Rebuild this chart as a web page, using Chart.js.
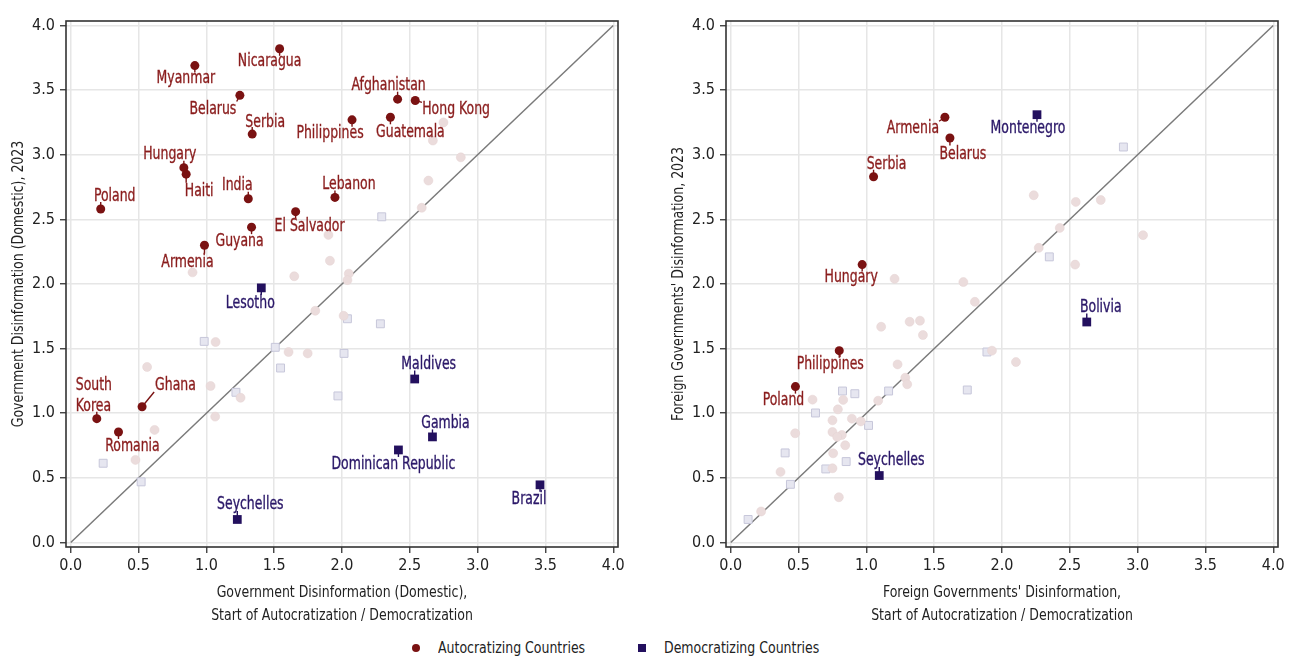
<!DOCTYPE html>
<html>
<head>
<meta charset="utf-8">
<script src="https://cdn.jsdelivr.net/npm/chart.js@4.4.1/dist/chart.umd.min.js"></script>
<style>
  html, body { margin:0; padding:0; background:#fff; }
  body { width:1289px; height:657px; overflow:hidden; position:relative;
         font-family:'Liberation Sans Narrow','DejaVu Sans Condensed','Arial Narrow',sans-serif; }
  #c1 { position:absolute; left:0; top:0; }
  #c2 { position:absolute; left:660px; top:0; }
  .lg { position:absolute; font-size:16px; color:#222; line-height:20px; top:638px; white-space:nowrap;
        transform:scaleX(0.87); transform-origin:0 50%; }
  .dot { position:absolute; top:644px; left:412px; width:8px; height:8px; border-radius:50%; background:#7a1212; }
  .sq { position:absolute; top:644px; left:638px; width:8px; height:8px; background:#23105e; }
</style>
</head>
<body>
<canvas id="c1" width="640" height="632"></canvas>
<canvas id="c2" width="629" height="632"></canvas>
<div class="dot"></div><div class="lg" style="left:438px">Autocratizing Countries</div>
<div class="sq"></div><div class="lg" style="left:664px">Democratizing Countries</div>
<script>
// ---------------- DATA: left panel (Domestic) ----------------
const autoNamesL = ['Nicaragua','Myanmar','Belarus','Afghanistan','Hong Kong','Serbia','Philippines','Guatemala','Hungary','Haiti','India','Lebanon','Poland','El Salvador','Guyana','Armenia','Ghana','South Korea','Romania'];
const autoXL = [1.54,0.915,1.247,2.41,2.54,1.338,2.074,2.357,0.834,0.851,1.309,1.948,0.221,1.658,1.333,0.986,0.526,0.192,0.352];
const autoYL = [3.82,3.69,3.46,3.43,3.42,3.16,3.27,3.29,2.90,2.85,2.66,2.67,2.58,2.56,2.44,2.30,1.05,0.958,0.855];

const demoNamesL = ['Lesotho','Maldives','Gambia','Dominican Republic','Brazil','Seychelles'];
const demoXL = [1.405,2.536,2.667,2.416,3.46,1.228];
const demoYL = [1.97,1.265,0.817,0.716,0.446,0.178];

const otherAutoXL = [0.898,1.90,1.911,1.648,2.05,2.04,2.748,2.67,2.876,2.637,2.588,0.563,1.068,1.803,2.012,1.606,1.747,1.031,1.252,1.065,0.618,0.477];
const otherAutoYL = [2.09,2.38,2.18,2.06,2.08,2.03,3.25,3.11,2.98,2.80,2.59,1.358,1.551,1.793,1.754,1.474,1.463,1.211,1.12,0.974,0.871,0.639];

const otherDemoXL = [2.293,0.984,2.04,1.508,2.015,1.547,1.218,1.97,0.239,0.519,2.283];
const otherDemoYL = [2.52,1.556,1.731,1.51,1.463,1.35,1.162,1.134,0.613,0.469,1.692];

// ---------------- DATA: right panel (Foreign) ----------------
const autoNamesR = ['Armenia','Belarus','Serbia','Hungary','Philippines','Poland'];
const autoXR = [1.579,1.616,1.053,0.969,0.80,0.477];
const autoYR = [3.29,3.13,2.83,2.15,1.484,1.206];

const demoNamesR = ['Montenegro','Bolivia','Seychelles'];
const demoXR = [2.258,2.625,1.095];
const demoYR = [3.31,1.706,0.518];

const otherAutoXR = [1.208,1.715,2.234,2.544,2.728,2.426,2.271,2.539,3.04,1.80,1.109,1.319,1.395,1.417,1.926,1.23,1.287,1.301,1.087,0.829,0.603,0.79,0.75,0.893,0.959,0.75,0.819,0.785,0.475,0.844,0.755,0.75,0.367,0.797,0.224,2.103];
const otherAutoYR = [2.04,2.015,2.687,2.635,2.65,2.434,2.28,2.15,2.378,1.862,1.669,1.708,1.716,1.605,1.484,1.378,1.275,1.224,1.097,1.103,1.105,1.03,0.945,0.958,0.937,0.855,0.832,0.817,0.845,0.752,0.69,0.574,0.546,0.35,0.24,1.396];

const otherDemoXR = [2.895,2.349,1.889,1.744,1.164,0.824,0.915,0.625,1.016,0.401,0.851,0.701,0.44,0.128];
const otherDemoYR = [3.06,2.21,1.474,1.18,1.172,1.172,1.151,1.002,0.906,0.693,0.626,0.569,0.45,0.178];

// axis tick values and titles
const tickValues = [0,0.5,1,1.5,2,2.5,3,3.5,4];
const diagonal = [0,4];
const titlesL = { y:'Government Disinformation (Domestic), 2023',
                  x:['Government Disinformation (Domestic),','Start of Autocratization / Democratization'] };
const titlesR = { y:"Foreign Governments' Disinformation, 2023",
                  x:["Foreign Governments' Disinformation,",'Start of Autocratization / Democratization'] };

// ---------------- label placement (px offsets from the point) ----------------
const placeL = {
  'Nicaragua':[-10,12], 'Myanmar':[-9,12], 'Belarus':[-27,13], 'Afghanistan':[-9,-15],
  'Hong Kong':[7,8,'left'], 'Serbia':[13,-13], 'Philippines':[-22,12], 'Guatemala':[20,14],
  'Hungary':[-14,-14], 'Haiti':[13,16], 'India':[-11,-14], 'Lebanon':[14,-14], 'Poland':[14,-14],
  'El Salvador':[14,14], 'Guyana':[-12,13], 'Armenia':[-17,16], 'Ghana':[13,-22,'left'],
  'South Korea':[-21,-24,'left',true], 'Romania':[14,13],
  'Lesotho':[-11,14], 'Maldives':[14,-16], 'Gambia':[13,-15], 'Dominican Republic':[-5,13],
  'Brazil':[-11,13], 'Seychelles':[13,-16]
};
const placeR = {
  'Armenia':[-32,10], 'Belarus':[13,15], 'Serbia':[13,-13], 'Hungary':[-11,12],
  'Philippines':[-9,13], 'Poland':[-12,13], 'Montenegro':[-9,13], 'Bolivia':[14,-16], 'Seychelles':[12,-16]
};

// ---------------- styling ----------------
const FONT = "'Liberation Sans Narrow','DejaVu Sans Condensed','Arial Narrow',sans-serif";
const AUTO = '#7a1212', AUTO_TXT = '#8a1c1c';
const DEMO = '#23105e', DEMO_TXT = '#2a1768';
const LABEL_SX = 0.77, TITLE_SX = 0.87;
Chart.defaults.font.family = FONT;
Chart.defaults.color = '#222';

const zip = (xs, ys) => xs.map((x,i) => ({x, y: ys[i]}));

function narrowText(ctx, text, x, y, sx, align, rot, strokeW){
  ctx.save();
  ctx.translate(x, y);
  if (rot) ctx.rotate(rot);
  ctx.scale(sx, 1);
  ctx.textAlign = align;
  if (strokeW) { ctx.lineWidth = strokeW; ctx.strokeStyle = ctx.fillStyle; ctx.strokeText(text, 0, 0); }
  ctx.fillText(text, 0, 0);
  ctx.restore();
}

const framePlugin = {
  id:'frame',
  afterDraw(chart, args, opts){
    const {ctx, chartArea:a} = chart;
    ctx.save();
    ctx.strokeStyle = '#333'; ctx.lineWidth = 1.6;
    ctx.strokeRect(a.left, a.top, a.right - a.left, a.bottom - a.top);
    // axis titles
    ctx.fillStyle = '#222';
    ctx.font = '16px ' + FONT;
    ctx.textBaseline = 'middle';
    const cx = (a.left + a.right) / 2, cy = (a.top + a.bottom) / 2;
    opts.titles.x.forEach((t, k) => narrowText(ctx, t, cx, 593 + k*23, TITLE_SX, 'center'));
    narrowText(ctx, opts.titles.y, 19, cy, TITLE_SX, 'center', -Math.PI/2);
    ctx.restore();
  }
};

const labelPlugin = {
  id:'pointLabels',
  afterDatasetsDraw(chart, args, opts){
    const xs = chart.scales.x, ys = chart.scales.y, ctx = chart.ctx;
    ctx.save();
    ctx.font = '18px ' + FONT;
    ctx.textBaseline = 'middle';
    opts.items.forEach(it => {
      const px = xs.getPixelForValue(it.x), py = ys.getPixelForValue(it.y);
      const p = opts.place[it.name] || [10,-12];
      const align = p[2] || 'center';
      const lines = p[3] ? it.name.split(' ') : [it.name];
      const lh = 21;
      const w = Math.max(...lines.map(l => ctx.measureText(l).width)) * LABEL_SX;
      const h = lh * (lines.length - 1) + 12;
      const cy = py + p[1];
      const bx0 = align === 'left' ? px + p[0] : px + p[0] - w/2;
      const bx1 = bx0 + w;
      const by0 = cy - h/2, by1 = by0 + h;
      // leader line
      const nx = Math.min(Math.max(px, bx0), bx1), ny = Math.min(Math.max(py, by0), by1);
      const dx = nx - px, dy = ny - py, d = Math.hypot(dx, dy);
      if (d > 0.1) {
        const ux = dx/d, uy = dy/d, r = 3.5;
        const end = Math.max(d - 1.5, r + 3.5);
        ctx.beginPath();
        ctx.strokeStyle = it.color; ctx.lineWidth = 1.4;
        ctx.moveTo(px + ux*r, py + uy*r);
        ctx.lineTo(px + ux*end, py + uy*end);
        ctx.stroke();
      }
      ctx.fillStyle = it.textColor;
      const tx = align === 'left' ? bx0 : px + p[0];
      lines.forEach((l, k) => {
        narrowText(ctx, l, tx, cy + 1 - lh*(lines.length-1)/2 + k*lh, LABEL_SX, align, 0, 0.35);
      });
    });
    ctx.restore();
  }
};

function makeChart(id, d){
  const items = d.autoNames.map((n,i) => ({name:n, x:d.autoX[i], y:d.autoY[i], color:AUTO, textColor:AUTO_TXT}))
    .concat(d.demoNames.map((n,i) => ({name:n, x:d.demoX[i], y:d.demoY[i], color:DEMO, textColor:DEMO_TXT})));
  const axisCommon = (isX) => ({
    type:'linear', min:-0.035, max:4.035,
    afterFit(scale){ if (isX) scale.height = 85; else scale.width = 66; },
    afterBuildTicks(scale){ scale.ticks = tickValues.map(v => ({value:v})); },
    ticks:{ autoSkip:false, maxRotation:0,
            font:{size:16}, color:'#222', padding: isX ? 3 : 5,
            callback:v => Number(v).toFixed(1) },
    grid:{ color:'#e6e6e6', lineWidth:1.5, tickColor:'#333', tickLength:6, tickWidth:1.3 },
    border:{ display:false },
    title:{ display:false }
  });
  return new Chart(document.getElementById(id), {
    type:'scatter',
    data:{ datasets:[
      { data: zip(d.otherAutoX, d.otherAutoY), pointStyle:'circle', pointRadius:4.5,
        backgroundColor:'#ebdcdc', borderColor:'#e4d2d2', borderWidth:0.5 },
      { data: zip(d.otherDemoX, d.otherDemoY), pointStyle:'rect', pointRadius:5.6,
        backgroundColor:'#e6e6f0', borderColor:'#c7c7da', borderWidth:1 },
      { type:'line', data: zip(diagonal, diagonal), borderColor:'#7a7a7a', borderWidth:1.5,
        pointRadius:0, fill:false },
      { data: zip(d.autoX, d.autoY), pointStyle:'circle', pointRadius:4.5,
        backgroundColor:AUTO, borderColor:AUTO, borderWidth:0 },
      { data: zip(d.demoX, d.demoY), pointStyle:'rect', pointRadius:6.2,
        backgroundColor:DEMO, borderColor:DEMO, borderWidth:0 }
    ]},
    options:{
      responsive:false, animation:false, events:[],
      layout:{ padding:{ left:0, right:d.padRight, top:21, bottom:0 } },
      scales:{ x: axisCommon(true), y: axisCommon(false) },
      plugins:{ legend:{display:false}, tooltip:{enabled:false},
                pointLabels:{ items, place:d.place },
                frame:{ titles:d.titles } }
    },
    plugins:[labelPlugin, framePlugin]
  });
}

makeChart('c1', { autoNames:autoNamesL, autoX:autoXL, autoY:autoYL,
  demoNames:demoNamesL, demoX:demoXL, demoY:demoYL,
  otherAutoX:otherAutoXL, otherAutoY:otherAutoYL, otherDemoX:otherDemoXL, otherDemoY:otherDemoYL,
  titles:titlesL, place:placeL, padRight:22 });
makeChart('c2', { autoNames:autoNamesR, autoX:autoXR, autoY:autoYR,
  demoNames:demoNamesR, demoX:demoXR, demoY:demoYR,
  otherAutoX:otherAutoXR, otherAutoY:otherAutoYR, otherDemoX:otherDemoXR, otherDemoY:otherDemoYR,
  titles:titlesR, place:placeR, padRight:11 });
</script>
</body>
</html>
